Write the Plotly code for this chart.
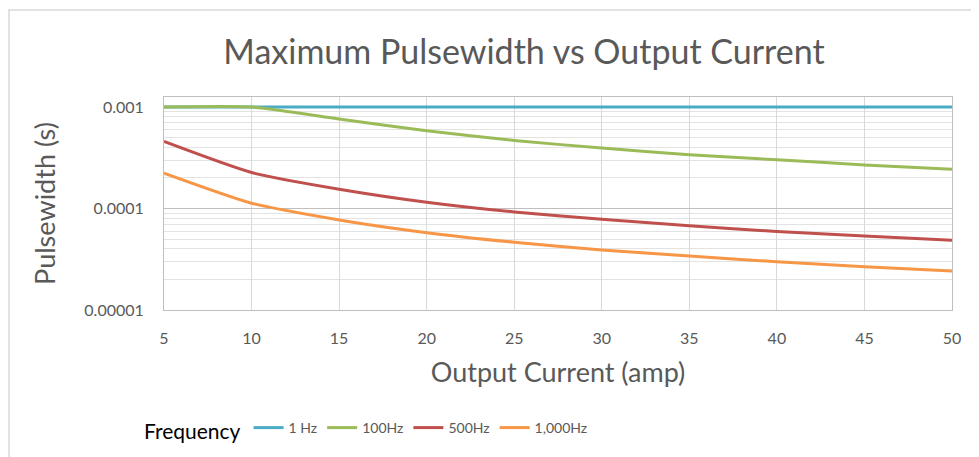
import plotly.graph_objects as go

current = [5, 10, 15, 20, 25, 30, 35, 40, 45, 50]
pw_1hz = [0.001, 0.001, 0.001, 0.001, 0.001, 0.001, 0.001, 0.001, 0.001, 0.001]
pw_100hz = [0.001, 0.001, 0.000762, 0.000583, 0.000468, 0.000394, 0.000338, 0.000302, 0.000269, 0.000244]
pw_500hz = [0.000457, 0.000226, 0.000155, 0.0001154, 0.0000925, 0.0000784, 0.0000678, 0.0000592, 0.0000537, 0.0000486]
pw_1000hz = [0.000223, 0.0001128, 0.0000771, 0.0000578, 0.0000465, 0.000039, 0.000034, 0.0000299, 0.0000267, 0.0000242]

series_names = ["1 Hz", "100Hz", "500Hz", "1,000Hz"]
series_colors = ["#4bacc6", "#9bbb59", "#c0504d", "#f79646"]
y_tickvals = [0.001, 0.0001, 0.00001]
y_ticktext = ["0.001", "0.0001", "0.00001"]
x_tickvals = [5, 10, 15, 20, 25, 30, 35, 40, 45, 50]

FONT = "Lato, Carlito, Calibri, sans-serif"
GRAY = "#595959"

fig = go.Figure()
for name, vals, col in zip(series_names, [pw_1hz, pw_100hz, pw_500hz, pw_1000hz], series_colors):
    fig.add_trace(go.Scatter(
        x=current, y=vals, name=name, mode="lines",
        line=dict(color=col, width=3, shape="spline", smoothing=0.6),
    ))

OFF = 8  # page body margin
W, H = 979 - OFF, 457 - OFF
L, T = 164 - OFF, 97 - OFF
R = W - (952 - OFF)
B = H - (310 - OFF)
pw = W - L - R
ph = H - T - B

fig.update_layout(
    width=W, height=H,
    margin=dict(l=L, r=R, t=T, b=B, autoexpand=False),
    paper_bgcolor="white", plot_bgcolor="white",
    font=dict(family=FONT, color=GRAY, size=14),
    title=dict(text="Maximum Pulsewidth vs Output Current", x=(524 - OFF) / W, xref="container",
               xanchor="center", y=1 - 44 / H, yref="container", yanchor="middle",
               font=dict(size=34, color=GRAY, family=FONT)),
    showlegend=True,
    legend=dict(orientation="h", x=(142 - OFF - L) / pw, xanchor="left",
                y=(H - B - (431 - OFF)) / ph, yanchor="middle",
                title=dict(text="Frequency", side="left", font=dict(size=21, color="#000000", family=FONT)),
                font=dict(size=14, color=GRAY, family=FONT),
                itemwidth=30, tracegroupgap=0, bgcolor="rgba(0,0,0,0)"),
    xaxis=dict(range=[5, 50], tickvals=x_tickvals, showgrid=True, gridcolor="#d9d9d9", gridwidth=1,
               showline=True, linecolor="#bfbfbf", linewidth=1, mirror=True, zeroline=False,
               automargin=False,
               ticks="", ticklabelstandoff=14, tickfont=dict(size=16, color=GRAY),
               title=dict(text="Output Current (amp)", font=dict(size=27, color=GRAY), standoff=16)),
    yaxis=dict(type="log", range=[-5, -3 + 10 / 101.5], tickvals=y_tickvals, ticktext=y_ticktext,
               showgrid=True, gridcolor="#bfbfbf", gridwidth=1,
               minor=dict(dtick="D1", showgrid=True, gridcolor="#e3e3e3", gridwidth=1, ticks=""),
               showline=True, linecolor="#bfbfbf", linewidth=1, mirror=True, zeroline=False,
               automargin=False,
               ticks="", ticklabelstandoff=16, tickfont=dict(size=16, color=GRAY),
               title=dict(text="Pulsewidth (s)", font=dict(size=27, color=GRAY), standoff=20)),
)

# outer chart border
fig.add_shape(type="rect", xref="paper", yref="paper",
              x0=(1 - L) / pw, x1=(W + 10 - L) / pw,
              y0=(H - B - (H + 10)) / ph, y1=(H - B - (10 - OFF)) / ph,
              line=dict(color="#d9d9d9", width=1.5), fillcolor="rgba(0,0,0,0)", layer="below")

fig.write_html("out.html")
